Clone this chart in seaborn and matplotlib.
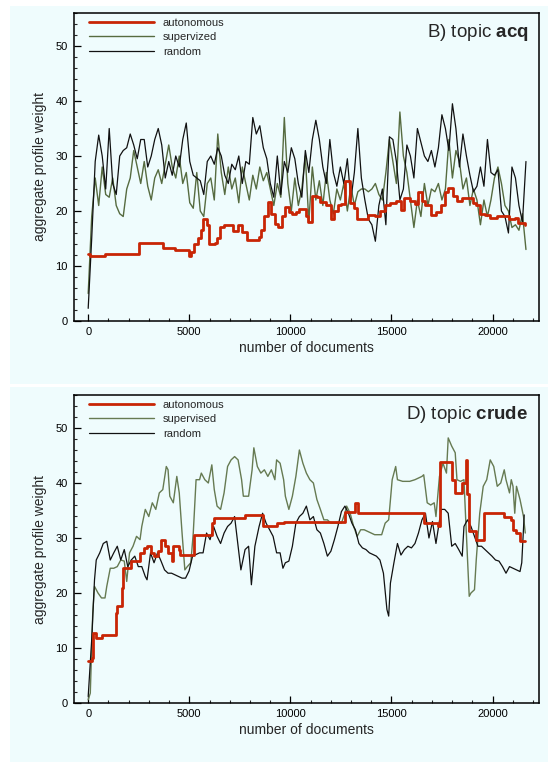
import numpy as np
import pandas as pd
import matplotlib
matplotlib.use("Agg")
import matplotlib.pyplot as plt
import seaborn as sns
from matplotlib.patches import Rectangle
from matplotlib.ticker import MultipleLocator

# ---------------- data: topic acq (panel B) ----------------
acq_random = [2.3, 15, 29, 33.8, 30, 24, 35, 25, 23, 30, 31, 31.5, 34, 32, 29.5, 33, 33, 28, 30, 33,
              35, 32, 26, 29, 26.5, 30, 28, 33, 36, 29, 26.5, 26, 25.5, 23, 29, 30, 28.5, 31.5, 30, 26.5,
              25, 28.5, 27.5, 30, 25, 29, 28.5, 37, 34, 35.5, 31.5, 29.5, 25, 22.5, 30, 23, 29, 27, 31.5, 29.5,
              25, 22.5, 31, 27, 33, 36.5, 33, 28, 25, 33, 27, 24.5, 28, 25, 29.5, 22, 27, 35, 26, 22,
              18.5, 17.5, 14.5, 21, 24, 17.5, 33.5, 33, 29, 22, 24, 32, 30, 26, 35, 32.5, 30, 29, 31, 28,
              31.5, 37.5, 35, 31, 39.5, 35, 28, 34, 30, 26.5, 23.5, 24.5, 28, 24.5, 33, 27, 26.5, 27.5, 20, 19,
              16, 28, 26, 21, 18, 29]
acq_supervized = [5, 19, 26, 21, 28, 23, 22.5, 26, 21, 19.5, 19, 24, 26, 31, 28, 25, 29, 24.5, 22, 26,
                  27.5, 25, 28.5, 32, 28, 26, 30, 25, 27, 21.5, 20.5, 27, 20, 19, 25, 26, 22, 34, 27, 23,
                  28, 24, 26, 21.5, 28, 25, 22, 26.5, 24, 28, 25.5, 27, 24, 21, 25, 22.5, 37, 25, 20, 26,
                  21, 24, 30, 18, 28, 22, 25.5, 21, 27, 22, 19.5, 24, 22, 25, 20, 24.5, 21, 23.5, 24, 24,
                  23.5, 24, 25, 23, 22, 27, 33, 29, 25, 38, 30, 27, 22, 17, 22, 19, 25, 21, 24, 23.5,
                  25, 22, 24, 33, 26, 31, 29, 24, 26, 21, 24, 22, 17.5, 22, 19, 22, 26, 28, 25, 21,
                  20, 17, 17.5, 16.5, 19.5, 13]
acq_sample_step = 173.2
acq_auto_docs = [0, 104, 831, 2511, 3689, 4295, 4988, 5075, 5248, 5421, 5594, 5681, 5854, 5993, 6287, 6374,
                 6512, 6720, 7153, 7413, 7586, 7846, 8452, 8539, 8712, 8885, 9058, 9232, 9405, 9578, 9751,
                 9924, 10098, 10271, 10444, 10790, 10877, 11050, 11310, 11483, 11743, 12003, 12176, 12349,
                 12522, 12696, 12955, 13128, 13302, 13821, 14168, 14428, 14687, 14947, 15207, 15467, 15640,
                 15900, 16160, 16333, 16506, 16679, 16939, 17199, 17459, 17632, 17805, 18065, 18238, 18498,
                 19017, 19191, 19364, 19624, 19883, 20230, 20836, 21096, 21269, 21615]
acq_auto_vals = [12.2, 11.8, 12.2, 14.1, 13.2, 12.9, 11.8, 12.5, 14, 15, 16.5, 18.5, 17.5, 14, 14.2, 15,
                 17, 17.4, 16.4, 17.5, 16.2, 14.8, 15.2, 16.6, 19, 21.6, 19.5, 17.6, 17, 19, 20.8,
                 19.8, 19.4, 19.8, 20.3, 19, 18, 22.8, 22.5, 21.7, 21, 18.5, 20, 21,
                 21.2, 25.5, 21.5, 20.5, 18.5, 19.2, 19, 20, 21, 21.4, 21.8, 20.2, 22.3,
                 21.8, 21.2, 23.5, 21.9, 21, 19.2, 19.8, 21, 23.4, 24.2, 22.8, 21.8, 22.3,
                 21.5, 21.1, 19.5, 19.2, 18.8, 19, 18.6, 18.7, 17.8, 17.5]

# ---------------- data: topic crude (panel D) ----------------
crude_random_docs = [0, 173, 312, 398, 572, 745, 918, 1091, 1264, 1438, 1611, 1784, 1957, 2130, 2304, 2477,
                     2650, 2823, 2910, 3083, 3256, 3429, 3603, 3776, 3949, 4122, 4295, 4469, 4642, 4815,
                     4988, 5161, 5335, 5508, 5681, 5854, 6027, 6201, 6374, 6547, 6720, 6893, 7067, 7240,
                     7413, 7552, 7759, 7933, 8071, 8244, 8452, 8625, 8799, 8972, 9145, 9318, 9491, 9630,
                     9751, 9924, 10098, 10271, 10444, 10617, 10790, 10964, 11137, 11310, 11483, 11656,
                     11830, 12003, 12176, 12349, 12522, 12696, 12869, 13042, 13215, 13388, 13562, 13735,
                     13908, 14081, 14254, 14428, 14601, 14774, 14861, 14947, 15120, 15294, 15467, 15640,
                     15813, 15986, 16160, 16333, 16506, 16679, 16852, 17026, 17199, 17459, 17632, 17805,
                     17978, 18151, 18324, 18498, 18584, 18757, 18930, 19104, 19277, 19450, 19624, 19797,
                     19970, 20143, 20316, 20490, 20663, 20836, 21009, 21182, 21356, 21442, 21563]
crude_random_vals = [1.2, 11.5, 22.4, 26, 27.3, 29, 29.4, 26, 27.3, 28.5, 26, 27.9, 24.8, 26, 26.7, 24.8,
                     24.8, 23, 22.4, 27.3, 25.5, 27.3, 25.8, 24.2, 23.6, 23.6, 23.3, 23, 22.7, 22.7,
                     24, 26.7, 27, 27.3, 27.3, 30.9, 29.7, 32.1, 30.3, 29, 30.9, 32.1, 32.7, 33.9,
                     28.5, 24.2, 27.9, 28.5, 21.5, 28.5, 32.1, 34.5, 32.7, 31.5, 30.3, 27.3, 27.3, 24.5,
                     25.5, 25.8, 28.5, 32.7, 33.9, 34.5, 35.8, 33.3, 33.9, 31.5, 30.9, 29,
                     26.7, 27.6, 29.7, 32.1, 34.8, 35.8, 34.5, 32.7, 31.5, 29, 28.2, 27.9,
                     27.3, 27, 26.7, 26, 23.6, 17, 15.8, 21.8, 25.5, 29, 26.9, 27.9,
                     28.5, 28.2, 29, 30.9, 33.3, 34.5, 30, 33, 29, 35.2, 35.2, 34.5,
                     28.5, 29, 27.9, 26.7, 32.1, 33.3, 32.1, 30.3, 28.5, 28.5, 27.9, 27.3,
                     26.7, 26, 25.8, 24.8, 23.6, 24.8, 24.5, 24.2, 23.9, 25.5, 34.2]
crude_supervised_docs = [0, 104, 225, 312, 485, 658, 831, 918, 1091, 1264, 1438, 1611, 1784, 1905, 2044,
                         2217, 2390, 2563, 2650, 2823, 2996, 3170, 3343, 3516, 3689, 3862, 3949, 4036,
                         4209, 4382, 4503, 4642, 4780, 4902, 5075, 5196, 5335, 5508, 5594, 5768, 5941,
                         6114, 6235, 6374, 6547, 6720, 6893, 7067, 7240, 7413, 7586, 7673, 7933, 8106,
                         8192, 8365, 8539, 8712, 8885, 9058, 9232, 9318, 9491, 9665, 9751, 9924, 10098,
                         10271, 10444, 10617, 10790, 10964, 11137, 11310, 11483, 11656, 11830, 12003,
                         12263, 12522, 12696, 12782, 12955, 13128, 13302, 13475, 13648, 13995, 14168,
                         14514, 14687, 14861, 15034, 15207, 15294, 15553, 15900, 16160, 16333, 16506,
                         16593, 16766, 16939, 17112, 17199, 17286, 17372, 17545, 17718, 17805, 17978,
                         18151, 18238, 18411, 18584, 18671, 18844, 18930, 19104, 19191, 19364, 19537,
                         19710, 19883, 20057, 20230, 20403, 20576, 20663, 20836, 20923, 21009, 21096,
                         21182, 21356, 21529, 21615]
crude_supervised_vals = [0.6, 1.8, 16.4, 21.2, 20, 19.1, 19.1, 21.2, 24.5, 24.5, 24.8, 26, 25.8, 22.1, 27.3,
                         28.5, 30.3, 29.7, 32.1, 35.2, 33.9, 36.4, 35.2, 38.2, 38.8, 43, 42.4, 37.6,
                         36.4, 41.2, 38.2, 30.9, 24.2, 24.8, 25.5, 30.9, 40.6, 40.6, 41.8, 40.6, 40,
                         43.3, 38.8, 35.8, 35.2, 38.2, 43, 44.2, 44.8, 44.2, 40.6, 37.6, 37.6, 42.4,
                         46.4, 43, 41.8, 42.4, 41.2, 42.4, 40.6, 44.2, 43.6, 40.6, 37.6, 35.2, 37.6,
                         41.2, 46, 43.6, 41.8, 40.6, 40, 37, 35.2, 33.3, 33.3, 32.7,
                         32.7, 32.7, 34.5, 35.8, 34.5, 32.1, 30.3, 31.5, 31.5, 30.9, 30.6,
                         30.6, 32.7, 33.3, 40.6, 43, 40.6, 40.3, 40.3, 40.6, 40.9, 41.2,
                         41.5, 36.4, 36, 36.4, 33.9, 37.6, 41.2, 43.6, 41.8, 48.2, 46.7,
                         45.5, 40.6, 40.3, 40.6, 33.3, 19.4, 20, 20.6, 26, 34.5, 39.4,
                         40.6, 44.2, 43, 39.4, 40, 42.4, 40.6, 38.2, 40.6, 39.4, 34.5,
                         39.4, 37, 33.9, 30.9]
crude_auto_docs = [0, 173, 260, 398, 658, 1351, 1438, 1663, 1732, 2130, 2563, 2737, 2910, 3083, 3256,
                   3429, 3603, 3776, 3949, 4122, 4209, 4469, 4555, 5213, 6114, 6201, 7759, 8625, 9353,
                   9665, 12696, 13215, 13336, 16627, 17286, 17407, 17978, 18151, 18498, 18671, 18757,
                   18844, 19191, 19572, 20576, 20923, 21009, 21182, 21356, 21615]
crude_auto_vals = [7.6, 8.2, 12.7, 11.8, 12.4, 16.4, 17.6, 20.9, 24.5, 25.8, 27.3, 28.2, 28.5, 27.3, 26.7,
                   27.6, 29.7, 28.5, 27.3, 25.8, 28.5, 27.9, 27, 30.6, 32.7, 33.6, 34.2, 32.1, 32.7,
                   33, 34.8, 36.4, 34.5, 32.7, 32.1, 43.9, 40.6, 38.2, 40, 44.2, 38,
                   31.2, 29.7, 34.5, 33.9, 33.3, 31.5, 30.9, 29.4, 29.4]

series_labels_B = ["autonomous", "supervized", "random"]
series_labels_D = ["autonomous", "supervised", "random"]
x_ticks = [0, 5000, 10000, 15000, 20000]
y_ticks = [0, 10, 20, 30, 40, 50]

# ---------------- style ----------------
sns.set_style("ticks")
plt.rcParams['font.family'] = ['Liberation Sans', 'DejaVu Sans']
plt.rcParams['mathtext.fontset'] = 'custom'
plt.rcParams['mathtext.rm'] = 'Liberation Sans'
plt.rcParams['mathtext.bf'] = 'Liberation Sans:bold'

BG = '#effcfd'
RED = '#c82505'
GREEN_B = '#566b40'
GREEN_D = '#667a52'
BLACK = '#111111'

fig = plt.figure(figsize=(5.5, 7.62), dpi=100)
fig.patch.set_facecolor('white')
fig.patches.append(Rectangle((10 / 550, 1 - 384 / 762), 538 / 550, 378 / 762,
                             transform=fig.transFigure, facecolor=BG, edgecolor='none', zorder=-5))
fig.patches.append(Rectangle((10 / 550, 0), 538 / 550, 375 / 762,
                             transform=fig.transFigure, facecolor=BG, edgecolor='none', zorder=-5))

ax1 = fig.add_axes([73.5 / 550, 1 - 321 / 762, 465.5 / 550, 308 / 762])
ax2 = fig.add_axes([73.5 / 550, 1 - 703 / 762, 465.5 / 550, 308 / 762])


def draw_panel(ax, labels, auto_x, auto_y, sup_x, sup_y, rnd_x, rnd_y, green, title_plain, title_bold):
    ax.set_facecolor(BG)
    df_sup = pd.DataFrame({"docs": sup_x, "weight": sup_y})
    df_rnd = pd.DataFrame({"docs": rnd_x, "weight": rnd_y})
    df_auto = pd.DataFrame({"docs": auto_x, "weight": auto_y})
    sns.lineplot(data=df_sup, x="docs", y="weight", ax=ax, color=green, lw=1.0,
                 estimator=None, sort=False, label=labels[1])
    sns.lineplot(data=df_rnd, x="docs", y="weight", ax=ax, color=BLACK, lw=0.9,
                 estimator=None, sort=False, label=labels[2])
    sns.lineplot(data=df_auto, x="docs", y="weight", ax=ax, color=RED, lw=2.0,
                 estimator=None, sort=False, drawstyle='steps-post', label=labels[0])
    lines = ax.get_lines()
    handles = [lines[2], lines[0], lines[1]]
    ax.legend(handles=handles, labels=labels, loc='upper left', frameon=False,
              fontsize=8, handlelength=5.9, handletextpad=0.75, labelspacing=0.42,
              borderpad=0, borderaxespad=0, bbox_to_anchor=(0.033, 0.985))
    ax.set_xlim(-727, 22295)
    ax.set_ylim(0, 56)
    ax.set_xticks(x_ticks)
    ax.set_yticks(y_ticks)
    ax.xaxis.set_minor_locator(MultipleLocator(1000))
    ax.yaxis.set_minor_locator(MultipleLocator(2))
    ax.tick_params(which='major', direction='in', length=5, width=0.9, labelsize=8, pad=4, colors='black')
    ax.tick_params(which='minor', direction='in', length=2.5, width=0.8)
    for sp in ax.spines.values():
        sp.set_visible(True)
        sp.set_linewidth(1.1)
        sp.set_color('black')
    ax.set_xlabel("number of documents", fontsize=10, labelpad=3)
    ax.set_ylabel("aggregate profile weight", fontsize=10, labelpad=6)
    ax.text(0.977, 0.938, title_plain + r" $\mathbf{" + title_bold + "}$", transform=ax.transAxes,
            ha='right', va='center', fontsize=13.5)


draw_panel(ax1, series_labels_B, acq_auto_docs, acq_auto_vals,
           np.arange(len(acq_supervized)) * acq_sample_step, acq_supervized,
           np.arange(len(acq_random)) * acq_sample_step, acq_random, GREEN_B, "B) topic", "acq")
draw_panel(ax2, series_labels_D, crude_auto_docs, crude_auto_vals,
           crude_supervised_docs, crude_supervised_vals,
           crude_random_docs, crude_random_vals, GREEN_D, "D) topic", "crude")

fig.savefig("out.png", dpi=100, facecolor='white')
